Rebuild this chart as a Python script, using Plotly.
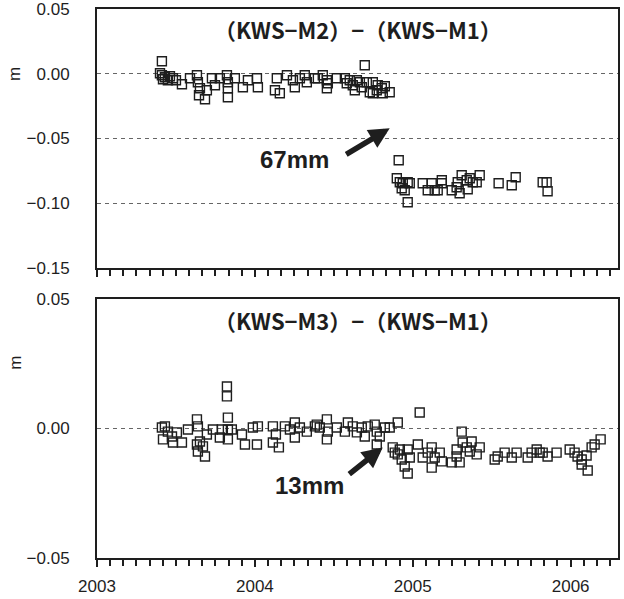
import plotly.graph_objects as go

# Epoch (decimal year) and baseline difference (m) for KWS-M2 minus KWS-M1
m2_t = [2003.399, 2003.411, 2003.411, 2003.418, 2003.430, 2003.449, 2003.462, 2003.481, 2003.500,
        2003.538, 2003.589, 2003.633, 2003.639, 2003.652, 2003.646, 2003.684, 2003.696, 2003.728,
        2003.747, 2003.778, 2003.823, 2003.829, 2003.829, 2003.829, 2003.873, 2003.924, 2003.956,
        2004.013, 2004.019, 2004.127, 2004.139, 2004.158, 2004.203, 2004.241, 2004.253, 2004.285,
        2004.316, 2004.329, 2004.380, 2004.399, 2004.430, 2004.456, 2004.456, 2004.462, 2004.519,
        2004.570, 2004.582, 2004.601, 2004.620, 2004.633, 2004.646, 2004.665, 2004.677, 2004.696,
        2004.709, 2004.728, 2004.747, 2004.747, 2004.772, 2004.778, 2004.804, 2004.810, 2004.823,
        2004.854,
        2004.899, 2004.911, 2004.918, 2004.930, 2004.937, 2004.949, 2004.968, 2004.968, 2004.981,
        2005.063, 2005.095, 2005.120, 2005.139, 2005.158, 2005.184, 2005.184, 2005.247, 2005.278,
        2005.285, 2005.297, 2005.310, 2005.342, 2005.348, 2005.361, 2005.380, 2005.405, 2005.424,
        2005.544, 2005.627, 2005.652, 2005.823, 2005.848, 2005.854]
m2_d = [0.0004, 0.0097, -0.0012, -0.0042, -0.0027, -0.0050, -0.0019, -0.0035, -0.0050,
        -0.0081, -0.0035, -0.0012, -0.0066, -0.0112, -0.0166, -0.0197, -0.0127, -0.0035,
        -0.0089, -0.0035, -0.0012, -0.0066, -0.0112, -0.0181, -0.0035, -0.0104, -0.0050,
        -0.0035, -0.0104, -0.0127, -0.0035, -0.0151, -0.0012, -0.0050, -0.0104, -0.0035,
        -0.0012, -0.0066, -0.0035, -0.0035, -0.0012, -0.0050, -0.0112, -0.0073, -0.0035,
        -0.0035, -0.0073, -0.0050, -0.0089, -0.0127, -0.0050, -0.0066, -0.0104, 0.0066,
        -0.0066, -0.0143, -0.0066, -0.0151, -0.0127, -0.0089, -0.0112, -0.0151, -0.0097,
        -0.0143,
        -0.0807, -0.0668, -0.0838, -0.0884, -0.0845, -0.0899, -0.0838, -0.0992, -0.0845,
        -0.0845, -0.0899, -0.0845, -0.0899, -0.0899, -0.0845, -0.0822, -0.0899, -0.0876,
        -0.0838, -0.0923, -0.0784, -0.0822, -0.0892, -0.0807, -0.0838, -0.0838, -0.0784,
        -0.0845, -0.0861, -0.0799, -0.0838, -0.0838, -0.0907]

# Epoch (decimal year) and baseline difference (m) for KWS-M3 minus KWS-M1
m3_t = [2003.411, 2003.418, 2003.430, 2003.449, 2003.475, 2003.481, 2003.506, 2003.538, 2003.576,
        2003.633, 2003.639, 2003.633, 2003.639, 2003.652, 2003.684, 2003.671, 2003.696, 2003.734,
        2003.778, 2003.791, 2003.823, 2003.823, 2003.829, 2003.829, 2003.829, 2003.854, 2003.918,
        2003.937, 2003.987, 2004.019, 2004.013, 2004.114, 2004.133, 2004.114, 2004.152, 2004.190,
        2004.222, 2004.253, 2004.253, 2004.285, 2004.329, 2004.380, 2004.392, 2004.411, 2004.456,
        2004.462, 2004.456, 2004.519, 2004.570, 2004.589, 2004.620, 2004.646, 2004.677, 2004.696,
        2004.715, 2004.759, 2004.772, 2004.791, 2004.823, 2004.854, 2004.905, 2004.772,
        2004.873, 2004.886, 2004.905, 2004.918, 2004.930, 2004.968, 2004.981, 2004.949, 2004.968,
        2005.044, 2005.032, 2005.063, 2005.095, 2005.120, 2005.120, 2005.139, 2005.171, 2005.184,
        2005.247, 2005.278, 2005.297, 2005.310, 2005.278, 2005.316, 2005.342, 2005.361, 2005.373,
        2005.405, 2005.424, 2005.519, 2005.538, 2005.582, 2005.627, 2005.658, 2005.728, 2005.753,
        2005.785, 2005.804, 2005.823, 2005.854, 2005.911, 2005.994, 2006.025, 2006.044, 2006.070,
        2006.070, 2006.108, 2006.101, 2006.133, 2006.152, 2006.190]
m3_d = [0.0004, -0.0042, 0.0008, -0.0012, -0.0031, -0.0054, -0.0015, -0.0054, -0.0004,
        0.0035, 0.0008, -0.0062, -0.0089, -0.0050, -0.0108, -0.0069, -0.0023, -0.0004,
        -0.0035, -0.0004, 0.0162, 0.0124, 0.0042, -0.0004, -0.0042, -0.0004, -0.0023,
        -0.0062, 0.0004, 0.0008, -0.0062, 0.0008, -0.0023, -0.0054, -0.0073, 0.0008,
        -0.0004, 0.0023, -0.0035, 0.0004, -0.0012, 0.0008, 0.0015, 0.0004, 0.0035,
        -0.0012, -0.0042, 0.0004, -0.0012, 0.0023, 0.0008, -0.0015, 0.0004, -0.0031,
        0.0008, 0.0015, -0.0012, -0.0031, 0.0004, 0.0004, 0.0023, -0.0062,
        -0.0073, -0.0093, -0.0100, -0.0081, -0.0120, -0.0081, -0.0112, -0.0147, -0.0174,
        0.0062, -0.0062, -0.0112, -0.0093, -0.0073, -0.0151, -0.0112, -0.0093, -0.0127,
        -0.0131, -0.0108, -0.0131, -0.0012, -0.0081, -0.0054, -0.0073, -0.0089, -0.0050,
        -0.0100, -0.0073, -0.0120, -0.0108, -0.0093, -0.0112, -0.0093, -0.0112, -0.0093,
        -0.0081, -0.0093, -0.0093, -0.0108, -0.0093, -0.0081, -0.0093, -0.0108, -0.0120,
        -0.0139, -0.0162, -0.0104, -0.0073, -0.0062, -0.0042]

panel_titles = ["（KWS−M2）−（KWS−M1）", "（KWS−M3）−（KWS−M1）"]
year_ticks = [2003, 2004, 2005, 2006]
top_yticks = [0.05, 0.00, -0.05, -0.10, -0.15]
bottom_yticks = [0.05, 0.00, -0.05]

INK = "#1e1e1e"
TICK_FONT = dict(family="Liberation Sans, Arial, sans-serif", size=17, color=INK)
X_RANGE = [2003.0, 2006.30]

marker_style = dict(symbol="square-open", size=9, color=INK, line=dict(width=1.4, color=INK))

fig = go.Figure()
fig.add_trace(go.Scatter(x=m2_t, y=m2_d, mode="markers", marker=marker_style,
                         xaxis="x", yaxis="y", showlegend=False, hoverinfo="x+y"))
fig.add_trace(go.Scatter(x=m3_t, y=m3_d, mode="markers", marker=marker_style,
                         xaxis="x2", yaxis="y2", showlegend=False, hoverinfo="x+y"))

common_x = dict(range=X_RANGE, showgrid=False, zeroline=False, showline=True, linewidth=2,
                linecolor=INK, mirror=True, tickmode="array", tickvals=year_ticks,
                ticks="outside", ticklen=7, tickwidth=2, tickcolor=INK, automargin=False,
                ticklabeloverflow="allow",
                minor=dict(dtick=1 / 12, tick0=2003, ticks="outside", ticklen=6,
                           tickwidth=1.5, tickcolor=INK, showgrid=False))
# inner half of the yearly ticks, drawn by an overlay axis
inner_x = dict(range=X_RANGE, showgrid=False, zeroline=False, showline=False,
               tickmode="array", tickvals=year_ticks, ticks="inside", ticklen=8,
               tickwidth=2, tickcolor=INK, showticklabels=False, automargin=False)
common_y = dict(showgrid=True, gridcolor="#666666", griddash="4px,4px", gridwidth=1,
                zeroline=False, showline=True, linewidth=2, linecolor=INK, mirror=True,
                ticks="", tickformat=".2f", tickfont=TICK_FONT, ticklabelstandoff=22,
                tickmode="array", automargin=False, ticklabeloverflow="allow")

fig.update_layout(
    width=624, height=599,
    margin=dict(l=97, r=6, t=9, b=41, autoexpand=False),
    paper_bgcolor="white", plot_bgcolor="white",
    xaxis=dict(common_x, domain=[0, 1], anchor="y", showticklabels=False),
    yaxis=dict(common_y, domain=[0.5282, 1.0], anchor="x", range=[-0.15, 0.05],
               tickvals=top_yticks),
    xaxis2=dict(common_x, domain=[0, 1], anchor="y2", showticklabels=True,
                ticktext=[str(v) for v in year_ticks], tickfont=TICK_FONT,
                ticklabelstandoff=5),
    yaxis2=dict(common_y, domain=[0.0, 0.4718], anchor="x2", range=[-0.05, 0.05],
                tickvals=bottom_yticks),
    xaxis3=dict(inner_x, overlaying="x", anchor="y"),
    xaxis4=dict(inner_x, overlaying="x2", anchor="y2"),
)

title_font = dict(family="Noto Sans CJK JP, sans-serif", size=22, color=INK, weight="bold")
label_font = dict(family="Liberation Sans, Arial, sans-serif", size=24, color=INK)

annotations = [
    dict(text=panel_titles[0], xref="x domain", yref="y", x=0.5, y=0.0345,
         showarrow=False, font=title_font, xanchor="center", yanchor="middle"),
    dict(text=panel_titles[1], xref="x2 domain", yref="y2", x=0.5, y=0.0420,
         showarrow=False, font=title_font, xanchor="center", yanchor="middle"),
    dict(text="m", xref="paper", yref="y", x=-0.157, y=0.0, textangle=-90,
         showarrow=False, font=TICK_FONT, xanchor="center", yanchor="middle"),
    dict(text="m", xref="paper", yref="y2", x=-0.157, y=0.0255, textangle=-90,
         showarrow=False, font=TICK_FONT, xanchor="center", yanchor="middle"),
    # step annotations
    dict(text="<b>67mm</b>", xref="x", yref="y", x=2004.253, y=-0.0660,
         showarrow=False, font=label_font, xanchor="center", yanchor="middle"),
    dict(text="", xref="x", yref="y", x=2004.854, y=-0.0421, ax=-45, ay=27,
         showarrow=True, arrowhead=2, arrowsize=0.75, arrowwidth=5.5, arrowcolor=INK),
    dict(text="<b>13mm</b>", xref="x2", yref="y2", x=2004.348, y=-0.0220,
         showarrow=False, font=label_font, xanchor="center", yanchor="middle"),
    dict(text="", xref="x2", yref="y2", x=2004.810, y=-0.0073, ax=-35, ay=28,
         showarrow=True, arrowhead=2, arrowsize=0.75, arrowwidth=5.5, arrowcolor=INK),
]
fig.update_layout(annotations=annotations)

fig.write_html("out.html")
